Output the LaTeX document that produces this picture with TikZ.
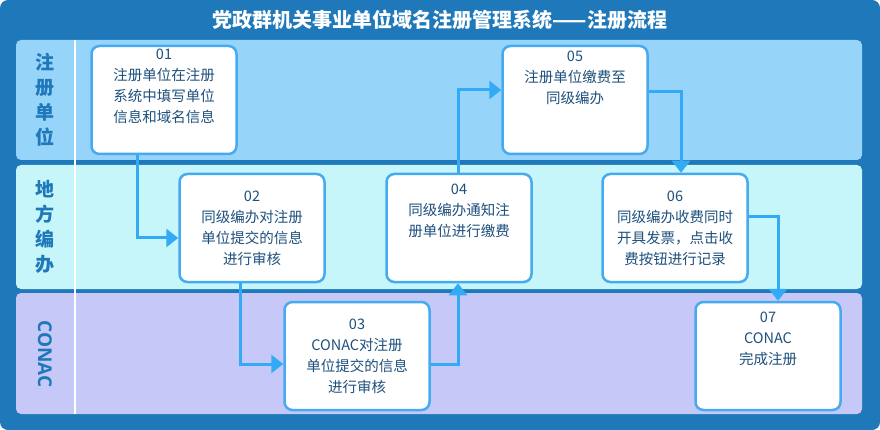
\documentclass[tikz,border=0pt]{standalone}
\usepackage{fontspec}
\setmainfont{Open Sans}
\newfontfamily\cjk{Noto Sans CJK SC}
\usetikzlibrary{arrows.meta}
\definecolor{frameblue}{RGB}{30,120,185}
\definecolor{laneA}{RGB}{150,212,250}
\definecolor{laneB}{RGB}{198,246,250}
\definecolor{laneC}{RGB}{198,200,248}
\definecolor{boxline}{RGB}{70,170,240}
\definecolor{flow}{RGB}{50,170,245}
\definecolor{txt}{RGB}{30,80,125}
\tikzset{every picture/.style={line width=0.75pt}}
\tikzset{
  stepbox/.style={draw=boxline, line width=2.5pt, fill=white, rounded corners=8pt,
    minimum width=145pt, minimum height=108pt, align=center, text=txt,
    font=\cjk\fontsize{14.5}{21}\selectfont, inner sep=2pt},
  flowline/.style={draw=flow, line width=3pt, -{Triangle[length=12pt,width=18pt]}},
  lanetitle/.style={text=frameblue, font=\cjk\bfseries\fontsize{19}{25}\selectfont, align=center}
}
\begin{document}
\begin{tikzpicture}[x=1pt,y=1pt,yscale=-1,xscale=1]
\useasboundingbox (0,0) rectangle (880,430);
%Frame
\fill [frameblue, rounded corners=8pt] (0,0) rectangle (880,430);
\node (title) at (440,20) [text=white, font=\cjk\bfseries\fontsize{20}{22}\selectfont] {党政群机关事业单位域名注册管理系统——注册流程};
%Lanes
\fill [laneA, rounded corners=5pt] (16,40) rectangle (862,160);
\fill [laneB, rounded corners=5pt] (16,165) rectangle (862,289);
\fill [laneC, rounded corners=5pt] (16,293) rectangle (862,414);
\draw [white, line width=2pt] (75,40) -- (75,414);
\node (lane1) at (45,100) [lanetitle] {注\\册\\单\\位};
\node (lane2) at (45,227) [lanetitle] {地\\方\\编\\办};
\node (lane3) at (45,354) [lanetitle, rotate=-90, font=\bfseries\fontsize{19}{21}\selectfont] {CONAC};

%Steps
\node (s01) at (164,100) [stepbox] {01\\注册单位在注册\\系统中填写单位\\信息和域名信息\\[8pt]};
\node (s02) at (252,228) [stepbox] {02\\同级编办对注册\\单位提交的信息\\进行审核};
\node (s03) at (357,356) [stepbox] {03\\CONAC对注册\\单位提交的信息\\进行审核};
\node (s04) at (459,228) [stepbox] {04\\同级编办通知注\\册单位进行缴费\\[14pt]};
\node (s05) at (575,100) [stepbox] {05\\注册单位缴费至\\同级编办\\[24pt]};
\node (s06) at (675,228) [stepbox] {06\\同级编办收费同时\\开具发票，点击收\\费按钮进行记录};
\node (s07) at (768,356) [stepbox] {07\\CONAC\\完成注册\\[14pt]};

%Flow
\draw [flowline] (s01.south -| 137,0) |- (s02.west |- 0,238);
\draw [flowline] (s02.south -| 240,0) |- (s03.west |- 0,364);
\draw [flowline] (s03.east |- 0,364) -| (s04.south -| 458,0);
\draw [flowline] (s04.north -| 458,0) |- (s05.west |- 0,90);
\draw [flowline] (s05.east |- 0,92) -| (s06.north -| 681,0);
\draw [flowline] (s06.east |- 0,217) -| (s07.north -| 778,0);
\end{tikzpicture}
\end{document}
